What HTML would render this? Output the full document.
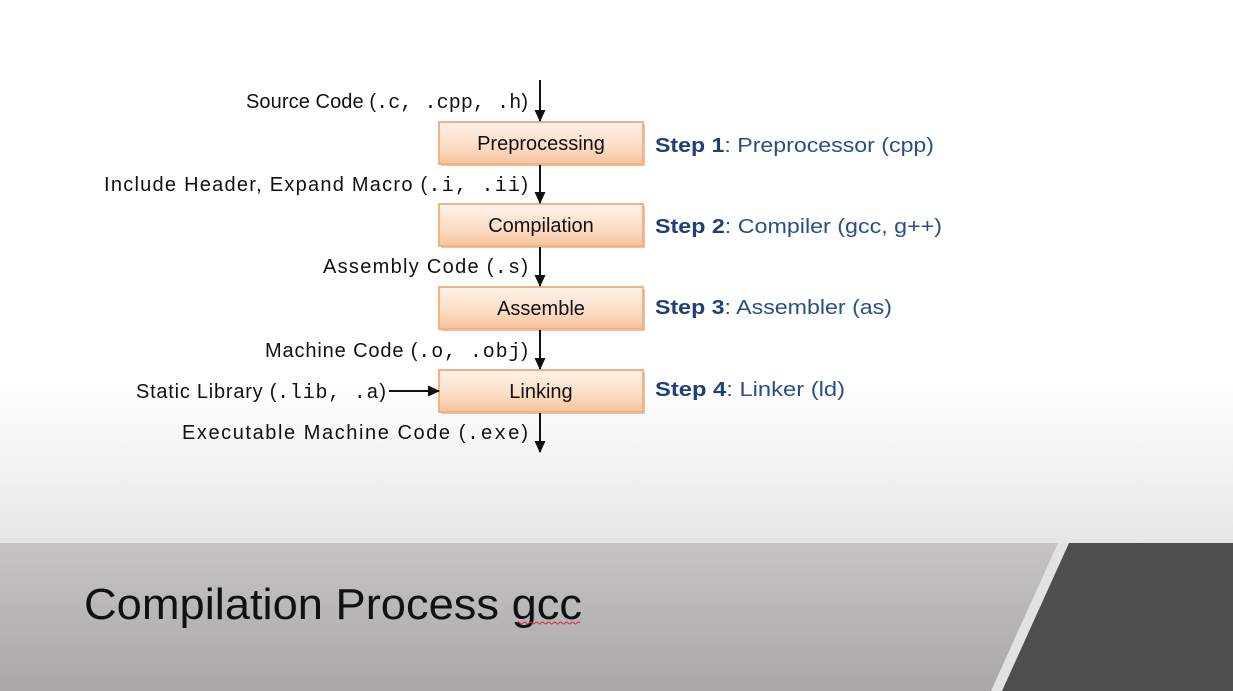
<!DOCTYPE html>
<html><head><meta charset="utf-8">
<style>
html,body{margin:0;padding:0;width:1233px;height:691px;overflow:hidden;background:#fff}
svg{display:block}
text{font-family:"Liberation Sans",sans-serif;font-size:20px;fill:#111}
.m{font-family:"Liberation Mono",monospace;font-size:20px}
.s{fill:#2a4f88}
.b{font-weight:bold;fill:#1f3f78}
</style></head><body>
<svg width="1233" height="691" viewBox="0 0 1233 691" xmlns="http://www.w3.org/2000/svg">
<defs>
<linearGradient id="bg" x1="0" y1="0" x2="0" y2="1">
<stop offset="0" stop-color="#ffffff"/><stop offset="0.7" stop-color="#ffffff"/><stop offset="1" stop-color="#e6e6e6"/>
</linearGradient>
<linearGradient id="band" x1="0" y1="0" x2="0" y2="1">
<stop offset="0" stop-color="#c6c5c3"/><stop offset="1" stop-color="#a9a8a7"/>
</linearGradient>
<linearGradient id="box" x1="0" y1="0" x2="0" y2="1">
<stop offset="0" stop-color="#fef2ea"/><stop offset="0.6" stop-color="#fcdcc4"/><stop offset="1" stop-color="#f8c39c"/>
</linearGradient>
<marker id="ah" markerWidth="12" markerHeight="12" refX="11" refY="6" orient="auto" markerUnits="userSpaceOnUse">
<path d="M0,0.5 L12,6 L0,11.5 z" fill="#111"/>
</marker>
</defs>
<rect x="0" y="0" width="1233" height="543" fill="url(#bg)"/>
<rect x="0" y="543" width="1233" height="148" fill="url(#band)"/>
<polygon points="1058,543 1233,543 1233,691 991,691" fill="#e2e2e2"/>
<polygon points="1069,543 1233,543 1233,691 1002,691" fill="#4e4e4e"/>

<g fill="#e9c3a6">
<rect x="441" y="124" width="204" height="42"/>
<rect x="441" y="206" width="204" height="42"/>
<rect x="441" y="289" width="204" height="42"/>
<rect x="441" y="372" width="204" height="42"/>
</g>
<g stroke="#f3b283" stroke-width="2" fill="url(#box)">
<rect x="439" y="122" width="204" height="42"/>
<rect x="439" y="204" width="204" height="42"/>
<rect x="439" y="287" width="204" height="42"/>
<rect x="439" y="370" width="204" height="42"/>
</g>
<g text-anchor="middle">
<text x="541" y="150">Preprocessing</text>
<text x="541" y="232">Compilation</text>
<text x="541" y="315">Assemble</text>
<text x="541" y="398">Linking</text>
</g>

<g stroke="#111" stroke-width="2" marker-end="url(#ah)">
<line x1="540" y1="80" x2="540" y2="121"/>
<line x1="540" y1="165" x2="540" y2="203"/>
<line x1="540" y1="247" x2="540" y2="286"/>
<line x1="540" y1="330" x2="540" y2="369"/>
<line x1="540" y1="413" x2="540" y2="452"/>
<line x1="389" y1="391" x2="439" y2="391"/>
</g>

<g text-anchor="end">
<text x="528" y="108" textLength="282" lengthAdjust="spacing">Source Code (<tspan class="m">.c, .cpp, .h</tspan>)</text>
<text x="528" y="191" textLength="424" lengthAdjust="spacing">Include Header, Expand Macro (<tspan class="m">.i, .ii</tspan>)</text>
<text x="528" y="273" textLength="205" lengthAdjust="spacing">Assembly Code (<tspan class="m">.s</tspan>)</text>
<text x="528" y="357" textLength="263" lengthAdjust="spacing">Machine Code (<tspan class="m">.o, .obj</tspan>)</text>
<text x="386" y="398" textLength="250" lengthAdjust="spacing">Static Library (<tspan class="m">.lib, .a</tspan>)</text>
<text x="528" y="439" textLength="346" lengthAdjust="spacing">Executable Machine Code (<tspan class="m">.exe</tspan>)</text>
</g>

<text x="655" y="152" class="s" textLength="279" lengthAdjust="spacingAndGlyphs"><tspan class="b">Step 1</tspan>: Preprocessor (cpp)</text>
<text x="655" y="233" class="s" textLength="287" lengthAdjust="spacingAndGlyphs"><tspan class="b">Step 2</tspan>: Compiler (gcc, g++)</text>
<text x="655" y="314" class="s" textLength="237" lengthAdjust="spacingAndGlyphs"><tspan class="b">Step 3</tspan>: Assembler (as)</text>
<text x="655" y="396" class="s" textLength="190" lengthAdjust="spacingAndGlyphs"><tspan class="b">Step 4</tspan>: Linker (ld)</text>

<text x="84" y="619" style="font-size:44px;fill:#111" textLength="498" lengthAdjust="spacingAndGlyphs">Compilation Process gcc</text>
<path d="M517,623 q1.5,-2 3,0 t3,0 t3,0 t3,0 t3,0 t3,0 t3,0 t3,0 t3,0 t3,0 t3,0 t3,0 t3,0 t3,0 t3,0 t3,0 t3,0 t3,0 t3,0 t3,0 t3,0" stroke="#d23" stroke-width="1" fill="none"/>
</svg>
</body></html>
